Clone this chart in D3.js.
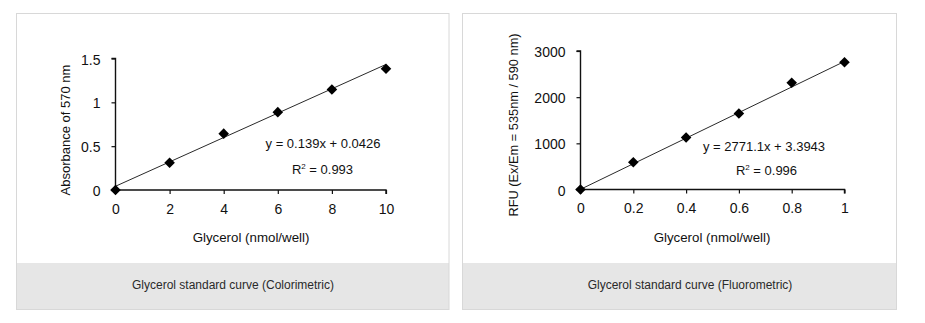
<!DOCTYPE html>
<html><head><meta charset="utf-8">
<script src="https://cdn.jsdelivr.net/npm/d3@7"></script>
<style>
html,body{margin:0;padding:0;background:#fff;}
svg{display:block;font-family:"Liberation Sans",Arial,Helvetica,sans-serif;}
</style></head>
<body><svg id="c" width="925" height="323"></svg>
<script>
// Colorimetric panel
const colorX = [0, 2, 4, 6, 8, 10];
const colorY = [0, 0.31, 0.643, 0.888, 1.146, 1.383];
const colorXTicks = [0, 2, 4, 6, 8, 10];
const colorYTicks = [0, 0.5, 1, 1.5];
const colorYTickLabels = ["0", "0.5", "1", "1.5"];
const colorFit = [0.139, 0.0426];
// Fluorometric panel
const fluoX = [0, 0.2, 0.4, 0.6, 0.8, 1];
const fluoY = [0, 592, 1128, 1648, 2312, 2755];
const fluoXTicks = [0, 0.2, 0.4, 0.6, 0.8, 1];
const fluoYTicks = [0, 1000, 2000, 3000];
const fluoFit = [2771.1, 3.3943];

const panels = [
  {box:[16.5,13.5,432.5,296], foot:263, plot:{x0:115.5,x1:386,y0:190,y1:58.5},
   xs:colorX, ys:colorY, xd:[0,10], yd:[0,1.5], xt:colorXTicks, yt:colorYTicks,
   xfmt:d=>String(d), yfmt:(d,i)=>colorYTickLabels[i], fit:colorFit,
   ytitle:"Absorbance of 570 nm", ytx:65, yty:130, ytsize:13,
   xtitle:"Glycerol (nmol/well)", xtx:251, eq:"y = 0.139x + 0.0426", eqx:323, r2:"0.993", r2x:322.5,
   eqy:148, r2y:174, caption:"Glycerol standard curve (Colorimetric)", capx:233},
  {box:[462.5,13.5,434,296], foot:263, plot:{x0:580.5,x1:844.5,y0:189.5,y1:51},
   xs:fluoX, ys:fluoY, xd:[0,1], yd:[0,3000], xt:fluoXTicks, yt:fluoYTicks,
   xfmt:d=>d===0||d===1?String(d):d.toFixed(1), yfmt:d=>String(d), fit:fluoFit,
   ytitle:"RFU (Ex/Em = 535nm / 590 nm)", ytx:514, yty:125, ytsize:12.8,
   xtitle:"Glycerol (nmol/well)", xtx:712, eq:"y = 2771.1x + 3.3943", eqx:764, r2:"0.996", r2x:766.5,
   eqy:151, r2y:175, caption:"Glycerol standard curve (Fluorometric)", capx:690}
];

const svg = d3.select("#c");
const txt = "#111";

panels.forEach(p => {
  const [bx,by,bw,bh] = p.box;
  svg.append("rect").attr("x",bx).attr("y",p.foot).attr("width",bw).attr("height",by+bh-p.foot)
    .attr("fill","#e6e6e6");
  svg.append("rect").attr("x",bx).attr("y",by).attr("width",bw).attr("height",bh)
    .attr("fill","none").attr("stroke","#d8d8d8").attr("stroke-width",1);
  svg.append("text").attr("x",p.capx).attr("y",289).attr("text-anchor","middle")
    .attr("font-size",12).attr("fill","#2a2a2a").text(p.caption);

  const x = d3.scaleLinear().domain(p.xd).range([p.plot.x0,p.plot.x1]);
  const y = d3.scaleLinear().domain(p.yd).range([p.plot.y0,p.plot.y1]);

  const gx = svg.append("g").attr("transform",`translate(0,${p.plot.y0})`)
    .call(d3.axisBottom(x).tickValues(p.xt).tickFormat(p.xfmt).tickSize(4).tickPadding(10));
  const gy = svg.append("g").attr("transform",`translate(${p.plot.x0},0)`)
    .call(d3.axisLeft(y).tickValues(p.yt).tickFormat(p.yfmt).tickSize(4).tickPadding(11));
  [gx,gy].forEach(g=>{
    g.select(".domain").attr("stroke","#111").attr("stroke-width",1.4);
    g.selectAll(".tick line").attr("stroke","#111").attr("stroke-width",1.2);
    g.selectAll(".tick text").attr("font-size",14).attr("fill",txt)
      .attr("font-family","'Liberation Sans',Arial,sans-serif");
  });
  gx.select(".domain").attr("d",`M${p.plot.x0},4V0H${p.plot.x1}V4`);
  gy.select(".domain").attr("d",`M-4,${p.plot.y1}H0V${p.plot.y0}`);
  gy.selectAll(".tick text").attr("dy","0.4em");

  // trend line
  const [m,b] = p.fit;
  svg.append("line").attr("x1",x(p.xd[0])).attr("y1",y(m*p.xd[0]+b))
    .attr("x2",x(p.xd[1])).attr("y2",y(m*p.xd[1]+b))
    .attr("stroke","#111").attr("stroke-width",0.9);

  // markers
  const sym = d3.symbol().type(d3.symbolSquare).size(56);
  svg.append("g").selectAll("path").data(p.xs.map((v,i)=>[v,p.ys[i]])).join("path")
    .attr("d",sym).attr("fill","#000")
    .attr("transform",d=>`translate(${x(d[0])},${y(d[1])}) rotate(45)`);

  svg.append("text").attr("x",p.xtx).attr("y",242).attr("text-anchor","middle")
    .attr("font-size",13.3).attr("fill",txt).text(p.xtitle);
  svg.append("text").attr("transform",`translate(${p.ytx},${p.yty}) rotate(-90)`)
    .attr("text-anchor","middle").attr("dy","0.35em")
    .attr("font-size",p.ytsize).attr("fill",txt).text(p.ytitle);

  svg.append("text").attr("x",p.eqx).attr("y",p.eqy).attr("text-anchor","middle")
    .attr("font-size",13).attr("fill",txt).text(p.eq);
  const r = svg.append("text").attr("x",p.r2x).attr("y",p.r2y).attr("text-anchor","middle")
    .attr("font-size",13).attr("fill",txt);
  r.append("tspan").text("R");
  r.append("tspan").attr("font-size",8).attr("dy",-5).text("2");
  r.append("tspan").attr("dy",5).text(" = " + p.r2);
});
</script></body></html>
